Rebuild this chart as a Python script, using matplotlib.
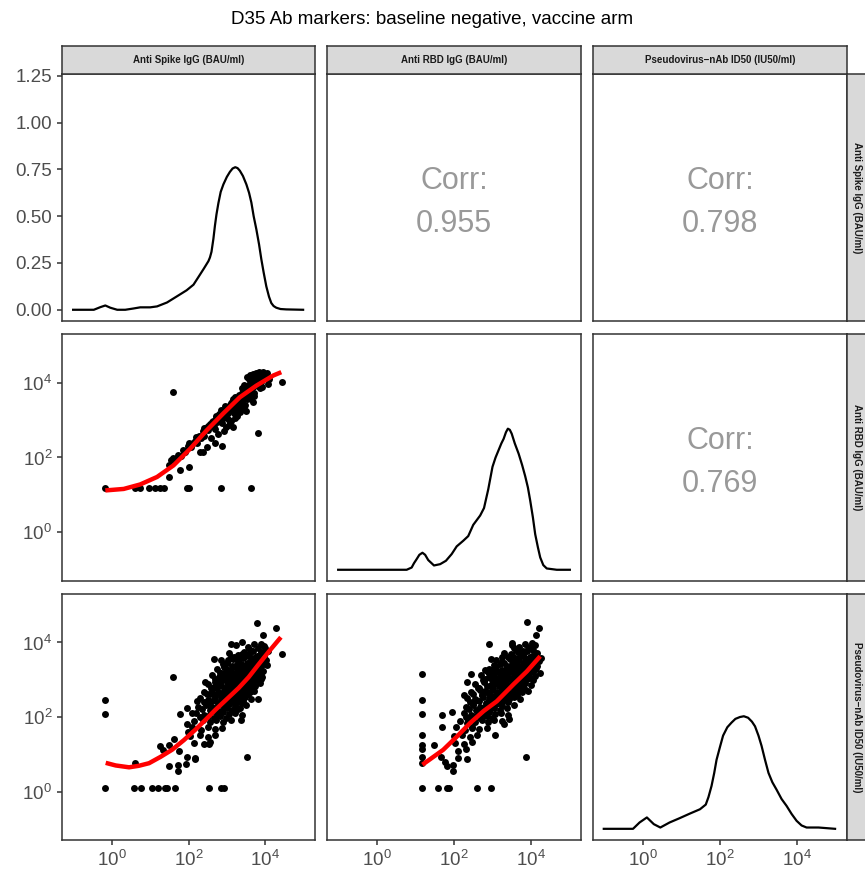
import matplotlib
matplotlib.use("Agg")
import matplotlib.pyplot as plt
import numpy as np

plt.rcParams['font.family'] = ['Liberation Sans', 'DejaVu Sans']
plt.rcParams['mathtext.fontset'] = 'custom'
plt.rcParams['mathtext.rm'] = 'Liberation Sans'
plt.rcParams['mathtext.it'] = 'Liberation Sans:italic'

# ---- labels ----
title = "D35 Ab markers: baseline negative, vaccine arm"
markers = ["Anti Spike IgG (BAU/ml)", "Anti RBD IgG (BAU/ml)", "Pseudovirus\u2212nAb ID50 (IU50/ml)"]
corr_cells = [(0, 1), (0, 2), (1, 2)]
corr_values = ["0.955", "0.798", "0.769"]
log_ticks = [0, 2, 4]
density_ticks = [0.0, 0.25, 0.5, 0.75, 1.0, 1.25]

# ---- diagonal densities (x in log10 units) ----
spike_density_log = [-1.01, -0.47, -0.30, -0.17, -0.04, 0.14, 0.35, 0.57, 0.74, 1.0, 1.18, 1.44, 1.70,
                     1.95, 2.13, 2.30, 2.40, 2.52, 2.56, 2.60, 2.65, 2.69, 2.73, 2.78, 2.84, 2.91, 3.0,
                     3.08, 3.15, 3.22, 3.28, 3.34, 3.42, 3.51, 3.58, 3.64, 3.70, 3.77, 3.84, 3.90, 3.96,
                     4.03, 4.10, 4.16, 4.22, 4.29, 4.40, 4.55, 4.99]
spike_density_val = [0, 0, 0.014, 0.023, 0.011, 0, 0, 0.007, 0.013, 0.013, 0.018, 0.039, 0.072,
                     0.104, 0.134, 0.188, 0.22, 0.26, 0.28, 0.31, 0.38, 0.45, 0.51, 0.57, 0.63, 0.67, 0.71,
                     0.737, 0.755, 0.762, 0.757, 0.743, 0.715, 0.67, 0.625, 0.573, 0.50, 0.43, 0.35, 0.27, 0.20,
                     0.125, 0.07, 0.036, 0.02, 0.011, 0.004, 0.002, 0]

rbd_density_log = [-1.01, 0.77, 0.90, 0.96, 1.03, 1.10, 1.18, 1.25, 1.33, 1.48, 1.64, 1.79, 1.94, 2.07,
                   2.24, 2.37, 2.50, 2.68, 2.78, 2.89, 3.00, 3.08, 3.16, 3.23, 3.29, 3.35, 3.40, 3.45,
                   3.50, 3.58, 3.68, 3.77, 3.85, 3.92, 3.98, 4.05, 4.11, 4.18, 4.24, 4.32, 4.41,
                   4.67, 5.01]
rbd_density_val = [0, 0, 0.012, 0.035, 0.057, 0.08, 0.091, 0.08, 0.052, 0.023, 0.03, 0.048, 0.084, 0.125,
                   0.155, 0.18, 0.24, 0.29, 0.33, 0.43, 0.55, 0.60, 0.64, 0.675, 0.70, 0.735, 0.754, 0.748,
                   0.727, 0.675, 0.62, 0.56, 0.50, 0.44, 0.37, 0.28, 0.19, 0.12, 0.066, 0.025, 0.007,
                   0, 0]

pseudo_density_log = [-1.02, -0.26, -0.09, 0.10, 0.28, 0.45, 0.69, 0.95, 1.22, 1.48, 1.63, 1.70, 1.78,
                      1.85, 1.91, 2.0, 2.08, 2.19, 2.30, 2.40, 2.52, 2.62, 2.73, 2.83, 2.91, 3.0, 3.08,
                      3.17, 3.26, 3.36, 3.47, 3.60, 3.73, 3.86, 3.99, 4.12, 4.25, 4.56, 4.99]
pseudo_density_val = [0, 0, 0.034, 0.061, 0.025, 0.007, 0.034, 0.057, 0.082, 0.105, 0.13, 0.17, 0.23,
                      0.30, 0.37, 0.44, 0.50, 0.545, 0.57, 0.59, 0.60, 0.604, 0.596, 0.575, 0.55, 0.50, 0.445,
                      0.37, 0.30, 0.25, 0.21, 0.16, 0.123, 0.08, 0.043, 0.018, 0.007, 0.007, 0]

# ---- scatter: Anti RBD (y) vs Anti Spike (x), log10 units ----
rbd_spike_x = [-0.17, 0.61, 0.74, 0.96, 1.13, 1.26, 1.37, 1.96, 2.02, 2.85, 3.62,
               1.59, 3.80, 4.45, 1.48, 1.50, 1.77, 2.02, 3.69, 3.50, 3.17, 2.87, 2.39, 4.08,
               1.55, 1.60, 1.68, 1.72, 1.80, 1.86, 1.91, 1.99, 2.06, 2.11, 2.17, 2.21, 2.27, 2.33,
               2.38, 2.41, 2.46, 2.52, 2.55, 2.61, 2.64, 2.67, 2.71, 2.75, 2.79, 2.83, 2.86, 2.88,
               2.93, 2.97, 3.01, 3.03, 3.07, 3.11, 3.13, 3.16, 3.19, 3.23, 3.27, 3.29, 3.33, 3.36,
               3.39, 3.42, 3.45, 3.47, 3.50, 3.53, 3.56, 3.58, 3.61, 3.64, 3.66, 3.69, 3.71, 3.74,
               3.77, 3.79, 3.82, 3.85, 3.88, 3.91, 3.95, 4.00, 4.06, 3.52, 3.60, 3.68, 3.75, 3.83,
               3.44, 3.38, 3.26, 3.12, 2.98, 2.78, 2.58, 2.92, 3.05, 3.20, 3.35, 3.48, 3.63, 3.72,
               3.87, 2.69, 2.49, 2.30, 3.00, 3.31,
               2.60, 2.70, 2.80, 2.90, 3.00, 3.05, 3.10, 3.18, 3.25, 3.30, 3.37, 3.40, 3.46, 3.52,
               3.57, 3.62, 3.67, 3.70, 3.76, 3.80, 3.86, 3.90, 3.94, 3.58, 3.65, 3.72, 3.80, 3.46,
               3.40, 3.22, 3.15, 2.95, 2.85, 2.72, 2.50, 2.40, 2.20, 2.00, 3.92, 4.10,
               3.55, 3.62, 3.70, 3.78, 3.85, 3.50, 3.42, 3.34, 3.25, 3.08, 2.98, 2.82, 2.65, 3.95, 4.02]
rbd_spike_y = [1.18, 1.18, 1.18, 1.18, 1.18, 1.18, 1.18, 1.18, 1.18, 1.18, 1.18,
               3.74, 2.65, 4.01, 1.79, 1.49, 1.67, 1.75, 3.48, 3.25, 2.81, 2.32, 2.14, 3.96,
               1.93, 1.99, 1.97, 2.08, 2.05, 2.20, 2.14, 2.31, 2.27, 2.40, 2.44, 2.38, 2.58, 2.52,
               2.70, 2.58, 2.78, 2.74, 2.90, 2.85, 2.98, 2.82, 3.06, 2.95, 3.12, 3.02, 3.20, 2.92,
               3.26, 3.12, 3.34, 3.19, 3.40, 3.28, 3.47, 3.33, 3.52, 3.41, 3.58, 3.45, 3.66, 3.52,
               3.72, 3.58, 3.79, 3.62, 3.84, 3.70, 3.92, 3.75, 3.98, 3.82, 4.04, 3.88, 4.10, 3.95,
               4.16, 4.02, 4.20, 4.08, 4.24, 4.13, 4.22, 4.18, 4.26, 4.15, 4.20, 4.23, 4.27, 4.29,
               3.36, 3.30, 3.12, 2.98, 2.82, 2.62, 2.52, 2.70, 2.88, 3.06, 3.22, 3.40, 3.55, 3.64,
               3.86, 2.40, 2.28, 2.15, 3.05, 3.34,
               2.95, 2.75, 3.15, 3.05, 3.22, 3.00, 3.45, 3.18, 3.50, 3.30, 3.62, 3.45, 3.68, 3.55,
               3.80, 3.65, 3.95, 3.72, 4.05, 3.90, 4.18, 4.02, 4.28, 4.10, 4.12, 4.18, 4.22, 3.95,
               3.85, 3.62, 3.55, 3.38, 3.28, 3.12, 2.85, 2.78, 2.55, 2.40, 3.88, 4.10,
               3.88, 3.92, 4.00, 4.12, 4.00, 3.72, 3.70, 3.55, 3.38, 3.30, 3.18, 3.05, 2.88, 4.15, 4.24]

# ---- scatter: Pseudovirus (y) vs Anti Spike (x) ----
pseudo_spike_x = [-0.17, 0.58, 0.77, 1.04, 1.20, 1.38, 1.45, 1.66, 2.53, 2.85, 2.92,
                  -0.17, -0.17, 1.59, 0.60, 3.52, 1.49, 1.73, 1.73, 1.25, 1.33, 1.50, 1.62, 1.75,
                  1.96, 1.94, 2.16, 3.78, 4.27, 3.95, 4.43, 3.11, 2.66, 3.98, 3.39, 2.42, 2.22, 1.96,
                  1.77, 2.09, 1.96, 1.99, 2.18, 3.81, 3.38, 4.04, 2.53,
                  3.25, 3.55, 3.70, 3.82, 3.90, 4.00,
                  3.05, 3.30, 3.45, 3.58, 3.68, 3.78, 3.88, 3.98, 4.08,
                  2.85, 3.00, 3.15, 3.30, 3.42, 3.52, 3.62, 3.72, 3.82, 3.92, 4.02,
                  2.75, 2.92, 3.08, 3.20, 3.32, 3.42, 3.52, 3.62, 3.72, 3.84, 3.95,
                  2.62, 2.80, 2.95, 3.08, 3.20, 3.30, 3.40, 3.50, 3.60, 3.70, 3.82, 3.92,
                  2.50, 2.70, 2.86, 3.00, 3.12, 3.22, 3.32, 3.42, 3.52, 3.62, 3.74, 3.86,
                  2.40, 2.60, 2.78, 2.92, 3.05, 3.15, 3.25, 3.36, 3.48, 3.60, 3.72,
                  2.30, 2.52, 2.70, 2.85, 2.98, 3.10, 3.22, 3.35, 3.48, 3.62,
                  2.25, 2.45, 2.62, 2.78, 2.92, 3.05, 3.20, 3.35, 3.50,
                  2.20, 2.40, 2.58, 2.75, 2.90, 3.05, 3.22, 3.40,
                  2.15, 2.38, 2.56, 2.72, 2.90, 3.10,
                  2.10, 2.32, 2.52, 2.70, 2.88,
                  2.05, 2.30, 2.50, 2.68,
                  2.15, 2.40, 2.55,
                  3.35, 3.45, 3.55, 3.65, 3.25, 3.15, 3.48, 3.58, 3.75, 3.05,
                  3.10, 3.35, 3.50, 3.64, 3.76, 3.86, 3.96,
                  2.95, 3.22, 3.37, 3.48, 3.58, 3.68, 3.78, 3.90, 4.00,
                  2.85, 3.00, 3.14, 3.26, 3.37, 3.47, 3.57, 3.67, 3.78, 3.90,
                  2.70, 2.88, 3.02, 3.14, 3.25, 3.35, 3.45, 3.55, 3.65, 3.77, 3.88,
                  2.58, 2.80, 2.95, 3.08, 3.19, 3.30, 3.40, 3.50, 3.60, 3.70,
                  2.48, 2.68, 2.84, 2.98, 3.10, 3.21, 3.32, 3.44, 3.56,
                  2.40, 2.60, 2.77, 2.92, 3.04, 3.16, 3.28, 3.42,
                  2.35, 2.55, 2.72, 2.86, 3.00, 3.14, 3.30,
                  2.30, 2.50, 2.66, 2.82, 2.98,
                  2.90, 3.03, 3.18, 3.40, 3.60, 3.72, 3.85,
                  2.82, 2.98, 3.13, 3.28, 3.50, 3.70, 3.88,
                  2.76, 2.92, 3.10, 3.30, 3.45, 3.65, 3.82,
                  2.66, 2.85, 3.02, 3.20, 3.38, 3.55, 3.72,
                  2.56, 2.75, 2.92, 3.10, 3.28, 3.45, 3.62,
                  2.50, 2.66, 2.85, 3.00, 3.20, 3.40]
pseudo_spike_y = [0.10, 0.10, 0.10, 0.10, 0.10, 0.10, 0.10, 0.10, 0.10, 0.10, 0.10,
                  2.45, 2.08, 3.08, 0.77, 0.94, 0.68, 0.54, 0.70, 1.23, 1.12, 1.26, 1.42, 1.08,
                  0.92, 0.74, 0.88, 4.52, 4.39, 4.20, 3.69, 3.96, 3.56, 3.90, 4.00, 2.93, 2.42, 2.24,
                  2.08, 2.10, 1.82, 1.61, 0.90, 2.48, 1.93, 3.40, 1.27,
                  3.93, 3.88, 3.95, 3.86, 3.97, 3.84,
                  3.72, 3.66, 3.75, 3.69, 3.78, 3.64, 3.74, 3.68, 3.77,
                  3.52, 3.46, 3.55, 3.49, 3.57, 3.45, 3.54, 3.48, 3.56, 3.47, 3.53,
                  3.28, 3.34, 3.26, 3.35, 3.29, 3.33, 3.25, 3.36, 3.27, 3.32, 3.24,
                  3.12, 3.06, 3.14, 3.08, 3.13, 3.05, 3.15, 3.09, 3.12, 3.04, 3.11, 3.07,
                  2.88, 2.93, 2.86, 2.95, 2.89, 2.92, 2.85, 2.94, 2.87, 2.91, 2.84, 2.90,
                  2.68, 2.73, 2.66, 2.72, 2.67, 2.74, 2.69, 2.65, 2.72, 2.67, 2.71,
                  2.52, 2.46, 2.54, 2.48, 2.53, 2.45, 2.51, 2.47, 2.54, 2.49,
                  2.28, 2.33, 2.26, 2.32, 2.27, 2.34, 2.29, 2.25, 2.31,
                  2.12, 2.06, 2.13, 2.08, 2.14, 2.07, 2.11, 2.05,
                  1.88, 1.93, 1.86, 1.92, 1.87, 1.91,
                  1.72, 1.66, 1.73, 1.68, 1.71,
                  1.48, 1.53, 1.46, 1.52,
                  1.31, 1.27, 1.34,
                  3.18, 3.02, 3.20, 3.38, 2.82, 3.00, 2.80, 3.00, 3.20, 2.80,
                  3.61, 3.58, 3.63, 3.57, 3.62, 3.59, 3.64,
                  3.41, 3.38, 3.43, 3.37, 3.42, 3.39, 3.44, 3.36, 3.41,
                  3.19, 3.22, 3.18, 3.23, 3.17, 3.21, 3.24, 3.18, 3.22, 3.19,
                  3.01, 2.98, 3.03, 2.97, 3.02, 2.99, 3.04, 2.96, 3.01, 2.98, 3.02,
                  2.79, 2.82, 2.78, 2.83, 2.77, 2.81, 2.79, 2.84, 2.78, 2.82,
                  2.61, 2.58, 2.62, 2.57, 2.63, 2.59, 2.61, 2.58, 2.62,
                  2.39, 2.42, 2.38, 2.43, 2.37, 2.41, 2.39, 2.42,
                  2.21, 2.18, 2.22, 2.17, 2.23, 2.19, 2.21,
                  1.99, 2.02, 1.98, 2.03, 1.97,
                  3.42, 3.52, 3.60, 3.68, 3.80, 3.57, 3.65,
                  3.18, 3.28, 3.38, 3.44, 3.38, 3.40, 3.42,
                  2.95, 3.05, 3.20, 3.15, 3.25, 3.20, 3.24,
                  2.80, 2.98, 2.88, 2.98, 3.05, 2.92, 3.02,
                  2.62, 2.80, 2.62, 2.78, 2.75, 2.62, 2.78,
                  2.38, 2.45, 2.58, 2.42, 2.55, 2.38]

# ---- scatter: Pseudovirus (y) vs Anti RBD (x) ----
pseudo_rbd_x = [1.18, 1.59, 1.81, 1.88, 2.59, 2.96,
                1.18, 1.18, 1.18, 1.18, 1.18, 1.18, 1.18, 1.18,
                1.48, 1.68, 1.68, 1.65, 1.77, 1.81, 1.98, 1.97, 2.11, 2.35, 1.94, 2.26, 2.33, 2.44,
                2.91, 2.96, 3.88, 3.89, 4.20, 4.14, 3.50, 3.55, 2.81, 2.50, 2.33, 2.46, 3.07, 3.29,
                3.44, 4.24, 4.27, 4.02,
                3.50, 3.70, 3.85, 3.98, 4.10,
                3.30, 3.50, 3.65, 3.78, 3.90, 4.02, 4.15,
                3.10, 3.30, 3.45, 3.58, 3.70, 3.82, 3.94, 4.06, 4.20,
                2.90, 3.10, 3.25, 3.38, 3.50, 3.62, 3.74, 3.86, 3.98, 4.12,
                2.70, 2.90, 3.05, 3.20, 3.33, 3.45, 3.57, 3.69, 3.81, 3.95, 4.10,
                2.55, 2.78, 2.95, 3.10, 3.23, 3.35, 3.47, 3.60, 3.72, 3.85, 4.00,
                2.45, 2.68, 2.85, 3.00, 3.13, 3.26, 3.38, 3.50, 3.63, 3.77, 3.92,
                2.35, 2.58, 2.76, 2.90, 3.04, 3.17, 3.30, 3.43, 3.57, 3.72,
                2.30, 2.50, 2.68, 2.83, 2.97, 3.10, 3.24, 3.38, 3.55,
                2.25, 2.45, 2.62, 2.78, 2.92, 3.07, 3.22, 3.40,
                2.15, 2.36, 2.55, 2.72, 2.88, 3.05, 3.25,
                2.05, 2.28, 2.48, 2.66, 2.85,
                2.00, 2.22, 2.42, 2.60,
                2.02, 2.25, 2.48,
                2.10, 2.30,
                3.40, 3.55, 3.66, 3.80, 3.30, 3.20, 3.60, 3.75, 3.90, 3.45,
                3.60, 3.78, 3.92, 4.05,
                3.40, 3.58, 3.72, 3.85, 3.98, 4.12,
                3.20, 3.38, 3.52, 3.65, 3.78, 3.90, 4.02, 4.15,
                3.00, 3.18, 3.32, 3.45, 3.57, 3.69, 3.81, 3.93, 4.06,
                2.80, 2.98, 3.13, 3.27, 3.40, 3.52, 3.64, 3.76, 3.90, 4.04,
                2.65, 2.85, 3.02, 3.16, 3.30, 3.42, 3.55, 3.68, 3.82,
                2.50, 2.72, 2.90, 3.05, 3.20, 3.34, 3.48, 3.63,
                2.42, 2.64, 2.82, 2.97, 3.12, 3.26, 3.40,
                2.38, 2.58, 2.75, 2.90, 3.04, 3.20,
                2.30, 2.50, 2.68, 2.85, 3.00,
                3.25, 3.48, 3.65, 3.80, 3.95, 4.08,
                3.05, 3.25, 3.45, 3.62, 3.80, 3.96, 4.10,
                2.88, 3.05, 3.25, 3.42, 3.60, 3.78, 3.95,
                2.75, 2.92, 3.10, 3.28, 3.46, 3.62, 3.78,
                2.62, 2.80, 2.98, 3.15, 3.32, 3.50, 3.66,
                2.55, 2.72, 2.90, 3.08, 3.25, 3.44]
pseudo_rbd_y = [0.10, 0.10, 0.10, 0.10, 0.10, 0.10,
                3.16, 2.45, 2.08, 1.51, 1.24, 1.15, 0.92, 0.77,
                1.26, 2.06, 1.72, 0.94, 0.79, 0.68, 0.54, 0.72, 0.90, 0.88, 2.13, 2.60, 2.94, 3.15,
                3.96, 3.56, 0.94, 4.54, 4.39, 4.21, 3.98, 3.85, 3.27, 2.35, 1.84, 1.70, 1.53, 1.81,
                1.95, 3.18, 3.58, 3.98,
                3.92, 3.87, 3.95, 3.88, 3.93,
                3.72, 3.66, 3.74, 3.68, 3.76, 3.65, 3.71,
                3.52, 3.46, 3.55, 3.48, 3.54, 3.45, 3.53, 3.47, 3.51,
                3.28, 3.34, 3.26, 3.33, 3.29, 3.35, 3.25, 3.32, 3.27, 3.31,
                3.12, 3.06, 3.14, 3.08, 3.13, 3.05, 3.15, 3.09, 3.12, 3.04, 3.10,
                2.88, 2.93, 2.86, 2.95, 2.89, 2.92, 2.85, 2.94, 2.87, 2.91, 2.86,
                2.68, 2.73, 2.66, 2.72, 2.67, 2.74, 2.69, 2.65, 2.72, 2.67, 2.70,
                2.52, 2.46, 2.54, 2.48, 2.53, 2.45, 2.51, 2.47, 2.54, 2.49,
                2.28, 2.33, 2.26, 2.32, 2.27, 2.34, 2.29, 2.25, 2.31,
                2.12, 2.06, 2.13, 2.08, 2.14, 2.07, 2.11, 2.05,
                1.88, 1.93, 1.86, 1.92, 1.87, 1.91, 1.89,
                1.72, 1.66, 1.73, 1.68, 1.71,
                1.48, 1.53, 1.46, 1.52,
                1.31, 1.27, 1.34,
                1.10, 1.14,
                3.20, 3.00, 3.22, 3.40, 2.80, 2.98, 2.78, 2.98, 3.22, 2.82,
                3.81, 3.78, 3.83, 3.79,
                3.61, 3.58, 3.63, 3.57, 3.62, 3.59,
                3.41, 3.38, 3.43, 3.37, 3.42, 3.39, 3.44, 3.38,
                3.19, 3.22, 3.18, 3.23, 3.17, 3.21, 3.24, 3.18, 3.21,
                3.01, 2.98, 3.03, 2.97, 3.02, 2.99, 3.04, 2.96, 3.01, 2.98,
                2.79, 2.82, 2.78, 2.83, 2.77, 2.81, 2.79, 2.84, 2.78,
                2.61, 2.58, 2.62, 2.57, 2.63, 2.59, 2.61, 2.58,
                2.39, 2.42, 2.38, 2.43, 2.37, 2.41, 2.39,
                2.21, 2.18, 2.22, 2.17, 2.23, 2.19,
                1.99, 2.02, 1.98, 2.03, 1.97,
                3.62, 3.70, 3.52, 3.66, 3.52, 3.62,
                3.40, 3.48, 3.30, 3.44, 3.30, 3.42, 3.30,
                3.20, 3.25, 3.10, 3.20, 3.05, 3.18, 3.08,
                2.98, 3.08, 2.90, 2.98, 2.80, 2.95, 2.82,
                2.78, 2.70, 2.80, 2.62, 2.75, 2.60, 2.72,
                2.48, 2.58, 2.40, 2.52, 2.40, 2.50]

# ---- loess fits (log10 units) ----
fit_rbd_spike_x = [-0.17, 0.31, 0.74, 1.18, 1.61, 2.04, 2.47, 2.91, 3.34, 3.77, 4.21, 4.42]
fit_rbd_spike_y = [1.12, 1.16, 1.28, 1.48, 1.79, 2.23, 2.72, 3.18, 3.61, 3.92, 4.19, 4.28]
fit_pseudo_spike_x = [-0.16, 0.10, 0.45, 0.70, 0.97, 1.27, 1.57, 1.88, 2.18, 2.44, 2.70, 3.00, 3.31,
                      3.57, 3.82, 4.10, 4.41]
fit_pseudo_spike_y = [0.77, 0.70, 0.65, 0.69, 0.76, 0.93, 1.12, 1.38, 1.66, 1.92, 2.19, 2.48, 2.78,
                      3.07, 3.40, 3.76, 4.14]
fit_pseudo_rbd_x = [1.18, 1.45, 1.72, 2.07, 2.42, 2.77, 3.11, 3.33, 3.55, 3.89, 4.24]
fit_pseudo_rbd_y = [0.72, 0.92, 1.12, 1.47, 1.84, 2.16, 2.42, 2.65, 2.88, 3.22, 3.63]

W, H = 865, 873
fig = plt.figure(figsize=(W / 100, H / 100), dpi=100)
fig.patch.set_facecolor("white")

col_px = [(62, 315), (327, 581), (593, 847)]
row_px = [(74, 321), (334, 581), (594, 840)]
dark = "#333333"
lim_log = (10 ** -1.3, 10 ** 5.3)


def add_px_axes(x0, y0, x1, y1):
    return fig.add_axes([x0 / W, 1 - y1 / H, (x1 - x0) / W, (y1 - y0) / H])


def log_labels(ticks):
    return [f"$10^{{{t}}}$" for t in ticks]


diag = [(spike_density_log, spike_density_val),
        (rbd_density_log, rbd_density_val),
        (pseudo_density_log, pseudo_density_val)]
scatters = {(1, 0): (rbd_spike_x, rbd_spike_y, fit_rbd_spike_x, fit_rbd_spike_y),
            (2, 0): (pseudo_spike_x, pseudo_spike_y, fit_pseudo_spike_x, fit_pseudo_spike_y),
            (2, 1): (pseudo_rbd_x, pseudo_rbd_y, fit_pseudo_rbd_x, fit_pseudo_rbd_y)}

for r in range(3):
    for c in range(3):
        ax = add_px_axes(col_px[c][0], row_px[r][0], col_px[c][1], row_px[r][1])
        ax.set_xscale("log")
        ax.set_xlim(*lim_log)
        if r == c:
            lx, ly = diag[r]
            ax.plot(10 ** np.array(lx), ly, color="black", lw=1.6)
            ax.set_ylim(-0.06, 1.26)
        elif r > c:
            sx, sy, fx, fy = scatters[(r, c)]
            ax.set_yscale("log")
            ax.scatter(10 ** np.array(sx), 10 ** np.array(sy), s=25, color="black", linewidths=0, zorder=2)
            ax.plot(10 ** np.array(fx), 10 ** np.array(fy), color="red", lw=3.2, solid_capstyle="butt", zorder=3)
            ax.set_ylim(*lim_log)
        else:
            idx = corr_cells.index((r, c))
            ax.text(0.5, 0.567, "Corr:", transform=ax.transAxes, ha="center", va="center",
                    fontsize=22, color="#999999")
            ax.text(0.5, 0.393, corr_values[idx], transform=ax.transAxes, ha="center", va="center",
                    fontsize=22, color="#999999")

        # ticks: only outer left column and bottom row carry labels
        if r == 2:
            ax.set_xticks([10.0 ** t for t in log_ticks])
            ax.set_xticklabels(log_labels(log_ticks))
        else:
            ax.set_xticks([])
        if c == 0:
            if r == 0:
                ax.set_yticks(density_ticks)
                ax.set_yticklabels([f"{t:.2f}" for t in density_ticks])
            else:
                ax.set_yticks([10.0 ** t for t in log_ticks])
                ax.set_yticklabels(log_labels(log_ticks))
        else:
            ax.set_yticks([])
        ax.minorticks_off()
        for sp in ax.spines.values():
            sp.set_color(dark)
            sp.set_linewidth(1.1)
        ax.tick_params(length=3.5, width=1.1, color=dark, labelcolor="#4D4D4D", labelsize=13.5, pad=3.5)

# strips
for c in range(3):
    sa = add_px_axes(col_px[c][0], 46, col_px[c][1], 74)
    sa.set_facecolor("#D9D9D9")
    sa.set_xticks([]); sa.set_yticks([])
    for sp in sa.spines.values():
        sp.set_color(dark); sp.set_linewidth(1.1)
    sa.text(0.5, 0.5, markers[c], ha="center", va="center", fontsize=7, fontweight="bold",
            color="#1A1A1A", transform=sa.transAxes)
for r in range(3):
    sa = add_px_axes(847, row_px[r][0], 875, row_px[r][1])
    sa.set_facecolor("#D9D9D9")
    sa.set_xticks([]); sa.set_yticks([])
    for sp in sa.spines.values():
        sp.set_color(dark); sp.set_linewidth(1.1)
    sa.text(0.36, 0.5, markers[r], ha="center", va="center", fontsize=7, fontweight="bold",
            color="#1A1A1A", rotation=-90, transform=sa.transAxes)

fig.text(0.5, 1 - 20 / H, title, ha="center", va="center", fontsize=13.5, color="black")

fig.savefig("out.png", dpi=100)
